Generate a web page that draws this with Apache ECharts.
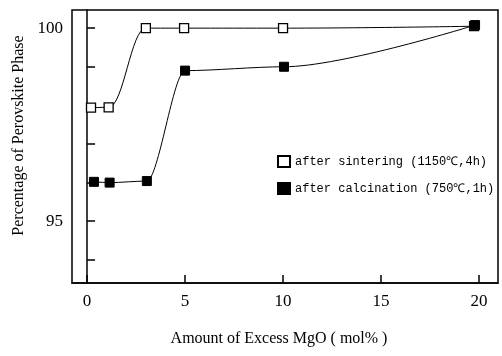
<!DOCTYPE html>
<html>
<head>
<meta charset="utf-8">
<script src="https://cdn.jsdelivr.net/npm/echarts@6/dist/echarts.min.js"></script>
<style>
  html, body { margin: 0; padding: 0; background: #fff; }
  #chart1 { width: 502px; height: 356px; }
</style>
</head>
<body>
<div id="chart1"></div>
<script>
// MgO excess (mol%) and percentage of perovskite phase
var sinterX = [0.2, 1.1, 3.0, 4.95, 10.0, 19.75];
var sinterY = [97.94, 97.95, 100.0, 100.0, 100.0, 100.05];
var calcX = [0.35, 1.15, 3.05, 5.0, 10.05, 19.8];
var calcY = [96.02, 96.0, 96.04, 98.9, 99.0, 100.08];

var xTicks = [0, 5, 10, 15, 20];
var yTicks = [94, 95, 96, 97, 98, 99, 100];
var yLabels = [95, 100];

var sinterName = 'after sintering (1150\u2103,4h)';
var calcName = 'after calcination (750\u2103,1h)';

var serif = "'Liberation Serif', 'DejaVu Serif', serif";
var mono = "'Liberation Mono', 'DejaVu Sans Mono', monospace";

function pairs(xs, ys) {
    var out = [];
    for (var i = 0; i < xs.length; i++) {
        out.push([xs[i], ys[i]]);
    }
    return out;
}

var chart1 = echarts.init(document.getElementById('chart1'));

var option = {
    animation: false,
    backgroundColor: '#fff',
    grid: {
        left: 72,
        right: 4,
        top: 10,
        bottom: 73,
        show: true,
        borderColor: '#000',
        borderWidth: 1.5,
        outerBoundsMode: 'none'
    },
    legend: {
        orient: 'vertical',
        left: 272,
        top: 150,
        itemGap: 14,
        itemWidth: 12,
        itemHeight: 11,
        textStyle: { fontFamily: mono, fontSize: 12, color: '#000' },
        data: [
            { name: sinterName, icon: 'rect' },
            { name: calcName, icon: 'rect' }
        ]
    },
    xAxis: {
        type: 'value',
        min: -0.77,
        max: 20.97,
        name: 'Amount of Excess MgO ( mol% )',
        nameLocation: 'middle',
        nameGap: 48,
        nameTextStyle: { fontFamily: serif, fontSize: 16, color: '#000', padding: [0, 12, 0, 0] },
        splitLine: { show: false },
        axisLine: { lineStyle: { color: '#000', width: 1.5 } },
        axisTick: {
            inside: true,
            length: 8,
            customValues: xTicks,
            lineStyle: { color: '#000', width: 1.5 }
        },
        axisLabel: {
            customValues: xTicks,
            margin: 10,
            fontFamily: serif,
            fontSize: 17,
            color: '#000'
        }
    },
    yAxis: {
        type: 'value',
        min: 93.4,
        max: 100.47,
        name: 'Percentage of Perovskite Phase',
        nameLocation: 'middle',
        nameGap: 37,
        nameTextStyle: { fontFamily: serif, fontSize: 16, color: '#000', padding: [0, 0, 0, 22] },
        splitLine: { show: false },
        axisLine: { lineStyle: { color: '#000', width: 1.5 } },
        axisTick: {
            inside: true,
            length: 8,
            customValues: yTicks,
            lineStyle: { color: '#000', width: 1.5 }
        },
        axisLabel: {
            customValues: yLabels,
            margin: 9,
            fontFamily: serif,
            fontSize: 17,
            color: '#000'
        }
    },
    series: [
        {
            name: sinterName,
            type: 'line',
            data: pairs(sinterX, sinterY),
            smooth: 0.4,
            smoothMonotone: 'x',
            symbol: 'rect',
            symbolSize: 9,
            lineStyle: { color: '#000', width: 1 },
            itemStyle: { color: '#fff', borderColor: '#000', borderWidth: 1.3 },
            z: 3
        },
        {
            name: calcName,
            type: 'line',
            data: pairs(calcX, calcY),
            smooth: 0.3,
            smoothMonotone: 'x',
            symbol: 'rect',
            symbolSize: 9,
            lineStyle: { color: '#000', width: 1 },
            itemStyle: { color: '#000', borderColor: '#000', borderWidth: 1 },
            z: 4
        }
    ]
};

chart1.setOption(option);
window.onresize = chart1.resize;
</script>
</body>
</html>
